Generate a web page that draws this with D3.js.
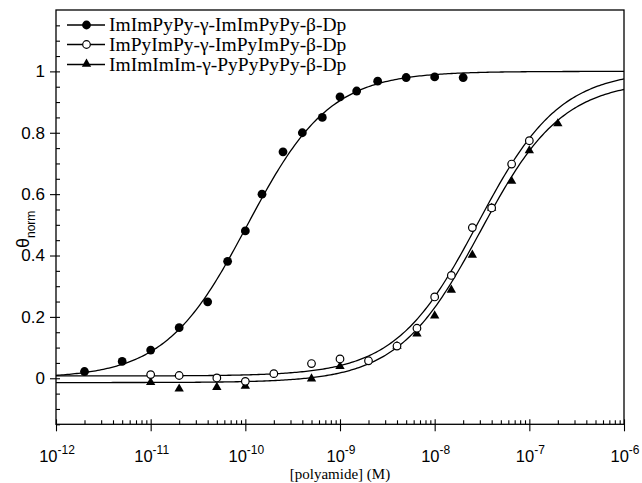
<!DOCTYPE html>
<html>
<head>
<meta charset="utf-8">
<script src="https://cdn.jsdelivr.net/npm/d3@7"></script>
<style>
  body { margin: 0; background: #fff; }
  svg { display: block; }
  .tick-lab { font-family: "Liberation Sans", Arial, sans-serif; }
</style>
</head>
<body>
<div id="chart"></div>
<script>
// data
var seriesNames = ["ImImPyPy-\u03b3-ImImPyPy-\u03b2-Dp", "ImPyImPy-\u03b3-ImPyImPy-\u03b2-Dp", "ImImImIm-\u03b3-PyPyPyPy-\u03b2-Dp"];

var concFilled = [2e-12, 5e-12, 1e-11, 2e-11, 4e-11, 6.5e-11, 1e-10, 1.5e-10, 2.5e-10, 4e-10, 6.5e-10, 1e-9, 1.5e-9, 2.5e-9, 5e-9, 1e-8, 2e-8];
var thetaFilled = [0.022, 0.055, 0.092, 0.165, 0.249, 0.381, 0.48, 0.60, 0.738, 0.80, 0.85, 0.917, 0.936, 0.968, 0.98, 0.982, 0.98];

var concOpen = [1e-11, 2e-11, 5e-11, 1e-10, 2e-10, 5e-10, 1e-9, 2e-9, 4e-9, 6.5e-9, 1e-8, 1.5e-8, 2.5e-8, 4e-8, 6.5e-8, 1e-7];
var thetaOpen = [0.012, 0.009, 0.001, -0.01, 0.015, 0.048, 0.063, 0.057, 0.105, 0.163, 0.265, 0.335, 0.491, 0.555, 0.698, 0.774];

var concTri = [1e-11, 2e-11, 5e-11, 1e-10, 5e-10, 1e-9, 4e-9, 6.5e-9, 1e-8, 1.5e-8, 2.5e-8, 4e-8, 6.5e-8, 1e-7, 2e-7];
var thetaTri = [-0.015, -0.036, -0.031, -0.027, -0.003, 0.037, 0.103, 0.143, 0.202, 0.286, 0.40, 0.553, 0.641, 0.74, 0.828];

// Langmuir fit parameters (estimated from the drawn curves)
var fitK = [9.5e9, 3.5e7, 3.3e7];
var fitMin = [0, 0.0075, -0.014];
var fitMax = [1.0, 1.003, 0.97];

var xDecades = [-12, -11, -10, -9, -8, -7, -6];
var yTicks = [0, 0.2, 0.4, 0.6, 0.8, 1];

var svgWidth = 642;
var svgHeight = 483;
var plot = { left: 56, right: 624, top: 10, bottom: 424.3 };

var svg = d3.select("#chart").append("svg")
  .attr("width", svgWidth)
  .attr("height", svgHeight);

var x = d3.scaleLog().domain([1e-12, 1e-6]).range([plot.left, plot.right]);
var y = d3.scaleLinear().domain([-0.15, 1.2]).range([plot.bottom, plot.top]);

// frame
svg.append("rect")
  .attr("x", plot.left).attr("y", plot.top)
  .attr("width", plot.right - plot.left)
  .attr("height", plot.bottom - plot.top)
  .attr("fill", "none").attr("stroke", "#000").attr("stroke-width", 1.3);

// x axis: major decades + minor ticks
var majorX = xDecades.map(function(p) { return Math.pow(10, p); });
var minorX = [];
xDecades.slice(0, -1).forEach(function(p) {
  for (var k = 2; k <= 9; k++) minorX.push(k * Math.pow(10, p));
});

var xAxisMajor = svg.append("g")
  .attr("transform", "translate(0," + plot.bottom + ")")
  .call(d3.axisBottom(x).tickValues(majorX).tickSize(7).tickSizeOuter(0).tickFormat(""));
xAxisMajor.selectAll(".tick line").attr("y1", -5);

var xAxisMinor = svg.append("g")
  .attr("transform", "translate(0," + plot.bottom + ")")
  .call(d3.axisBottom(x).tickValues(minorX).tickSize(-4).tickSizeOuter(0).tickFormat(""));

svg.selectAll(".domain").remove();
svg.selectAll(".tick line").attr("stroke", "#000").attr("stroke-width", 1.1);

// x tick labels with superscripts
var xLab = svg.append("g").attr("class", "tick-lab");
xDecades.forEach(function(p) {
  var t = xLab.append("text")
    .attr("x", x(Math.pow(10, p)) + 1)
    .attr("y", 462)
    .attr("text-anchor", "middle")
    .attr("font-size", 16.5);
  t.append("tspan").text("10");
  t.append("tspan").attr("dy", -8).attr("font-size", 12).text(p);
});

svg.append("text")
  .attr("x", (plot.left + plot.right) / 2)
  .attr("y", 479)
  .attr("text-anchor", "middle")
  .attr("font-family", "Liberation Serif, Times New Roman, serif")
  .attr("font-size", 15)
  .text("[polyamide] (M)");

// y axis
var minorY = d3.range(-3, 24).map(function(i) { return i * 0.05; })
  .filter(function(v) { return Math.round(v * 100) % 20 !== 0; });

var yAxisMajor = svg.append("g")
  .attr("transform", "translate(" + plot.left + ",0)")
  .call(d3.axisLeft(y).tickValues(yTicks).tickSize(6).tickSizeOuter(0).tickPadding(5)
    .tickFormat(function(d) { return d === 0 ? "0" : d === 1 ? "1" : d3.format(".1f")(d); }));
yAxisMajor.selectAll(".tick line").attr("x1", 4).attr("stroke", "#000").attr("stroke-width", 1.1);
yAxisMajor.selectAll(".tick text")
  .attr("font-family", "Liberation Sans, Arial, sans-serif")
  .attr("font-size", 17)
  .attr("fill", "#000");
yAxisMajor.select(".domain").remove();

var yAxisMinor = svg.append("g")
  .attr("transform", "translate(" + plot.left + ",0)")
  .call(d3.axisLeft(y).tickValues(minorY).tickSize(-4).tickSizeOuter(0).tickFormat(""));
yAxisMinor.selectAll(".tick line").attr("stroke", "#000").attr("stroke-width", 1.1);
yAxisMinor.select(".domain").remove();

// y title: theta_norm
var yTitle = svg.append("text")
  .attr("transform", "translate(29,248) rotate(-90)")
  .attr("font-family", "Liberation Sans, Arial, sans-serif")
  .attr("fill", "#000");
yTitle.append("tspan").attr("font-size", 18).text("\u03b8");
yTitle.append("tspan").attr("font-size", 12).attr("dy", 6).text("norm");

// fitted curves
svg.append("clipPath").attr("id", "plotclip").append("rect")
  .attr("x", plot.left).attr("y", plot.top)
  .attr("width", plot.right - plot.left).attr("height", plot.bottom - plot.top);

var logGrid = d3.range(-12, -5.999, 0.02);
var line = d3.line()
  .x(function(d) { return x(d[0]); })
  .y(function(d) { return y(d[1]); });

fitK.forEach(function(K, i) {
  var pts = logGrid.map(function(lg) {
    var c = Math.pow(10, lg);
    var f = K * c / (1 + K * c);
    return [c, fitMin[i] + (fitMax[i] - fitMin[i]) * f];
  });
  svg.append("path")
    .attr("d", line(pts))
    .attr("clip-path", "url(#plotclip)")
    .attr("fill", "none")
    .attr("stroke", "#000")
    .attr("stroke-width", 1.3);
});

// markers
var triangle = d3.symbol().type(d3.symbolTriangle).size(38);

function drawMarker(g, kind, cx, cy) {
  if (kind === 2) {
    g.append("path")
      .attr("d", triangle())
      .attr("transform", "translate(" + cx + "," + (cy - 0.5) + ")")
      .attr("fill", "#000");
  } else {
    g.append("circle")
      .attr("cx", cx).attr("cy", cy)
      .attr("r", kind === 0 ? 4.4 : 3.8)
      .attr("fill", kind === 0 ? "#000" : "#fff")
      .attr("stroke", "#000")
      .attr("stroke-width", kind === 0 ? 0 : 1.2);
  }
}

var pointsG = svg.append("g");
concTri.forEach(function(c, i) { drawMarker(pointsG, 2, x(c), y(thetaTri[i])); });
concOpen.forEach(function(c, i) { drawMarker(pointsG, 1, x(c), y(thetaOpen[i])); });
concFilled.forEach(function(c, i) { drawMarker(pointsG, 0, x(c), y(thetaFilled[i])); });

// legend
var legend = svg.append("g");
var rowY = [25, 44.5, 64.5];
seriesNames.forEach(function(name, i) {
  legend.append("line")
    .attr("x1", 67).attr("x2", 105)
    .attr("y1", rowY[i]).attr("y2", rowY[i])
    .attr("stroke", "#000").attr("stroke-width", 1.3);
  drawMarker(legend, i, 86.5, rowY[i]);
  legend.append("text")
    .attr("x", 109)
    .attr("y", rowY[i] + 6)
    .attr("font-family", "Liberation Serif, Times New Roman, serif")
    .attr("font-size", 19.5)
    .attr("fill", "#000")
    .text(name);
});
</script>
</body>
</html>
